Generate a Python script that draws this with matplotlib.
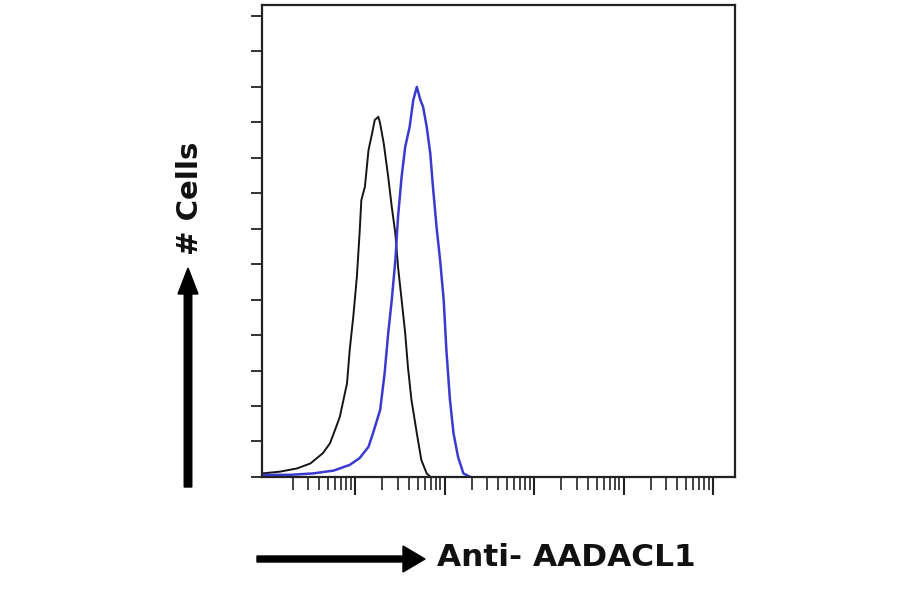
import numpy as np
import matplotlib
matplotlib.use('Agg')
import matplotlib.pyplot as plt

# channel values as log10, cell counts
black_log = [-0.04, 0.16, 0.35, 0.50, 0.64, 0.72, 0.79, 0.83, 0.91, 0.94, 0.98,
             1.02, 1.05, 1.07, 1.11, 1.15, 1.19, 1.22, 1.26, 1.28, 1.32, 1.37,
             1.41, 1.45, 1.48, 1.52, 1.56, 1.59, 1.63, 1.69, 1.74, 1.80, 1.84]
black_counts = [1.0, 1.5, 2.4, 3.8, 6.7, 9.5, 14.2, 17.0, 26.4, 35.8, 45.2,
                56.4, 68.6, 78.0, 81.8, 92.1, 96.8, 100.6, 101.5, 99.6, 94.0, 84.6,
                76.1, 68.6, 59.2, 49.9, 40.5, 31.1, 21.7, 12.3, 4.8, 1.0, 0.1]

blue_log = [-0.04, 0.27, 0.53, 0.76, 0.94, 1.05, 1.15, 1.20, 1.28, 1.33, 1.37,
            1.41, 1.45, 1.48, 1.52, 1.56, 1.61, 1.65, 1.69, 1.73, 1.76, 1.80,
            1.84, 1.87, 1.91, 1.95, 1.99, 2.02, 2.06, 2.10, 2.15, 2.21, 2.28]
blue_counts = [0.6, 0.6, 1.0, 1.8, 3.4, 5.3, 8.5, 12.3, 18.9, 29.2, 40.5,
               49.9, 61.1, 73.3, 84.6, 93.0, 98.7, 106.2, 109.9, 106.2, 104.3, 98.7,
               91.2, 81.8, 70.5, 61.1, 49.9, 35.8, 21.7, 12.3, 5.7, 1.0, 0.1]

y_ticks = list(range(0, 140, 10))

fig = plt.figure(figsize=(9, 5.94), dpi=100)
ax = fig.add_axes([0.2911, 0.197, 0.5256, 0.7946])

ax.plot(10 ** np.array(black_log), black_counts, color='#151515', lw=1.4)
ax.plot(10 ** np.array(blue_log), blue_counts, color='#3a3ad0', lw=1.8)

ax.set_xscale('log')
ax.set_xlim(10 ** -0.04, 10 ** 5.245)
ax.set_ylim(0, 133)
ax.set_yticks(y_ticks)
ax.set_yticklabels([])
ax.xaxis.set_minor_locator(matplotlib.ticker.LogLocator(base=10, subs=np.arange(2, 10)))
ax.xaxis.set_minor_formatter(matplotlib.ticker.NullFormatter())
ax.set_xticks([10, 100, 1000, 10000, 100000])
ax.set_xticklabels([])
ax.tick_params(axis='x', which='major', direction='out', length=13, width=1.5, color='#222222')
ax.tick_params(axis='x', which='minor', direction='out', length=9, width=1.2, color='#222222')
ax.tick_params(axis='y', direction='out', length=8, width=1.3, color='#222222')
for s in ax.spines.values():
    s.set_linewidth(1.6)
    s.set_color('#222222')

# axis arrows and labels
fig.patches.append(matplotlib.patches.FancyArrow(
    188 / 900, 1 - 487 / 594, 0, (487 - 268) / 594, width=5 / 594,
    head_width=20 / 900, head_length=26 / 594, length_includes_head=True,
    color='black', transform=fig.transFigure))
fig.patches.append(matplotlib.patches.FancyArrow(
    257 / 900, 1 - 559 / 594, (425 - 257) / 900, 0, width=6 / 594,
    head_width=26 / 594, head_length=22 / 900, length_includes_head=True,
    color='black', transform=fig.transFigure))

fig.text(190 / 900, 1 - 198 / 594, '# Cells', rotation=90, ha='center', va='center',
         fontsize=21, fontweight='bold', family='DejaVu Sans', color='#111111')
fig.text(437 / 900, 1 - 557 / 594, 'Anti- AADACL1', ha='left', va='center',
         fontsize=22.5, fontweight='bold', family='DejaVu Sans', color='#111111')

fig.savefig('out.png', dpi=100)
